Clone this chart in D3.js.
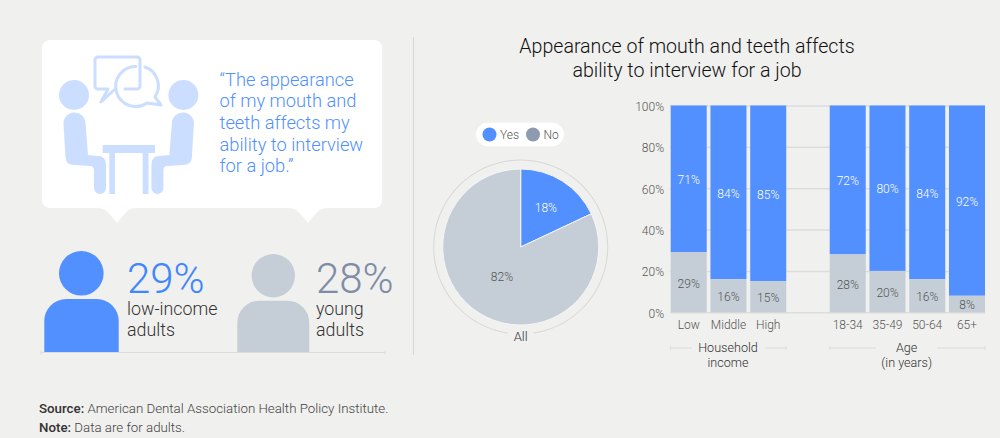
<!DOCTYPE html>
<html>
<head>
<meta charset="utf-8">
<script src="https://cdn.jsdelivr.net/npm/d3@7"></script>
<style>
  html, body { margin: 0; padding: 0; background: #f0f0ee; }
  svg { display: block; font-family: Roboto, "Liberation Sans", sans-serif; font-weight: 300; }
  .axis path { display: none; }
  .axis text { font-size: 12px; fill: #555; font-family: Roboto, "Liberation Sans", sans-serif; }
</style>
</head>
<body>
<svg id="chart" width="1000" height="438"></svg>
<script>
const titleLines = ['Appearance of mouth and teeth affects', 'ability to interview for a job'];
const quoteLines = ['“The appearance', 'of my mouth and', 'teeth affects my', 'ability to interview', 'for a job.”'];

const seriesNames = ['Yes', 'No'];
const allValues = [18, 82];

const barCats = ['Low', 'Middle', 'High', ' ', '18-34', '35-49', '50-64', '65+'];
const yesValues = [71, 84, 85, null, 72, 80, 84, 92];
const noValues = [29, 16, 15, null, 28, 20, 16, 8];
const yTicks = [0, 20, 40, 60, 80, 100];

const calloutStats = [
  { value: 29, label: ['low-income', 'adults'] },
  { value: 28, label: ['young', 'adults'] }
];

const BLUE = '#528fff', GREY = '#c5ced6', NO_LEGEND = '#8e9ab0', ICON = '#cbdeff', RULE = '#dcdcda', TEXT = '#333';

const svg = d3.select('#chart');

// title + divider
svg.append('g').selectAll('text').data(titleLines).enter().append('text')
  .attr('x', 687).attr('y', (d, i) => 53 + i * 24)
  .attr('text-anchor', 'middle').attr('font-size', 19.6).attr('fill', '#111').text(d => d);
svg.append('line').attr('x1', 413.5).attr('x2', 413.5).attr('y1', 37).attr('y2', 355).attr('stroke', '#d8d8d6');

// speech callout
svg.append('path').attr('fill', '#fff').attr('d',
  'M50 40H374a8 8 0 0 1 8 8V200a8 8 0 0 1-8 8H328C318 208 316 214 308 223C300 214 298 208 288 208'
  + 'H137C127 208 125 214 117 223C109 214 107 208 97 208H50a8 8 0 0 1-8-8V48a8 8 0 0 1 8-8Z');

// icon: two people at a table
const icon = svg.append('g').attr('fill', ICON);
const personPath = 'M63.5 124a11 11 0 0 1 22-1L88 155L98 156Q106 156 106 165V188a6 6 0 0 1-12 0V171Q94 166 90 166L74 165Q66 165 65.5 157Z';
icon.append('circle').attr('cx', 74).attr('cy', 95).attr('r', 15);
icon.append('path').attr('d', personPath);
const mirror = icon.append('g').attr('transform', 'translate(257.4,0) scale(-1,1)');
mirror.append('circle').attr('cx', 74).attr('cy', 95).attr('r', 15);
mirror.append('path').attr('d', personPath);
icon.append('path').attr('d', 'M102.7 145H155V153H148.5V194H142.7V153H115V194H109.3V153H102.7Z');
icon.append('path').attr('fill', 'none').attr('stroke', ICON).attr('stroke-width', 3).attr('stroke-linejoin', 'round').attr('stroke-linecap', 'round')
  .attr('d', 'M125 89H137a3 3 0 0 0 3-3V60a3 3 0 0 0-3-3H98a3 3 0 0 0-3 3V86a3 3 0 0 0 3 3H108L101 102L114 90');
icon.append('path').attr('fill', 'none').attr('stroke', ICON).attr('stroke-width', 3).attr('stroke-linejoin', 'round').attr('stroke-linecap', 'round')
  .attr('d', 'M145 67A20 20 0 0 1 155 97L161 105L147 103A20 20 0 1 1 136 66.5');

svg.append('g').selectAll('text').data(quoteLines).enter().append('text')
  .attr('x', 219.5).attr('y', (d, i) => 85.7 + i * 21.6)
  .attr('font-size', 18.3).attr('fill', '#4f8fff').text(d => d);

// people stats
const personSpec = [
  { cx: 81.3, cy: 273.3, r: 22.3, x0: 44.3, x1: 118.7, top: 299, fill: BLUE, tx: 127, num: '#3f86ff' },
  { cx: 273.3, cy: 275.7, r: 21.7, x0: 237.3, x1: 309.3, top: 300.7, fill: GREY, tx: 316, num: '#7f8ca6' }
];
const baseY = 352;
personSpec.forEach((p, i) => {
  const g = svg.append('g');
  g.append('circle').attr('cx', p.cx).attr('cy', p.cy).attr('r', p.r).attr('fill', p.fill);
  g.append('path').attr('fill', p.fill)
    .attr('d', `M${p.x0} ${baseY}V${p.top + 22}a22 22 0 0 1 22-22H${p.x1 - 22}a22 22 0 0 1 22 22V${baseY}Z`);
  g.append('text').attr('x', p.tx).attr('y', 293).attr('font-size', 42).attr('fill', p.num).text(calloutStats[i].value + '%');
  g.selectAll('.lbl').data(calloutStats[i].label).enter().append('text').attr('class', 'lbl')
    .attr('x', p.tx).attr('y', (d, j) => 314.5 + j * 21.8).attr('font-size', 17.8).attr('fill', TEXT).text(d => d);
});
svg.append('path').attr('fill', 'none').attr('stroke', RULE).attr('d', 'M41 350.5V354.5M41 352.5H385M385 350.5V354.5');

// pie
const pieX = 520.7, pieY = 247, pieR = 78, ringR = 87;
const pieG = svg.append('g').attr('transform', `translate(${pieX},${pieY})`);
const pie = d3.pie().sort(null).value(d => d)(allValues);
const arc = d3.arc().innerRadius(0).outerRadius(pieR);
pieG.selectAll('path').data(pie).enter().append('path')
  .attr('d', arc).attr('fill', (d, i) => i === 0 ? BLUE : GREY).attr('stroke', '#f4f5f6').attr('stroke-width', 1);
const labelR = [47, 35];
pieG.selectAll('text.val').data(pie).enter().append('text').attr('class', 'val')
  .attr('transform', (d, i) => {
    const c = d3.arc().innerRadius(labelR[i]).outerRadius(labelR[i]).centroid(d);
    return `translate(${c})`;
  })
  .attr('text-anchor', 'middle').attr('dy', '0.35em').attr('font-size', 12)
  .attr('fill', (d, i) => i === 0 ? '#fff' : '#555').text(d => d.value + '%');
// ring with a gap around "All"
pieG.append('path').attr('fill', '#d8d8d6')
  .attr('d', d3.arc().innerRadius(ringR - 0.5).outerRadius(ringR + 0.5).startAngle(Math.PI + 0.15).endAngle(3 * Math.PI - 0.15)());
pieG.append('text').attr('y', 93.5).attr('text-anchor', 'middle').attr('font-size', 13).attr('fill', TEXT).text('All');

// legend
svg.append('rect').attr('x', 476).attr('y', 122.7).attr('width', 88).attr('height', 23.5).attr('rx', 11.7).attr('fill', '#fff');
const legendX = [489.5, 533];
const legend = svg.append('g').selectAll('g').data(seriesNames).enter().append('g')
  .attr('transform', (d, i) => `translate(${legendX[i]},134.5)`);
legend.append('circle').attr('r', 7).attr('fill', (d, i) => i === 0 ? BLUE : NO_LEGEND);
legend.append('text').attr('x', 10.5).attr('dy', '0.35em').attr('font-size', 12).attr('fill', '#555').text(d => d);

// stacked bars
const x = d3.scaleBand().domain(barCats).range([670.7, 985]).paddingInner(0.094);
const y = d3.scaleLinear().domain([0, 100]).range([312.3, 105.5]);

const yAxis = svg.append('g').attr('class', 'axis').attr('transform', 'translate(670,0)')
  .call(d3.axisLeft(y).tickValues(yTicks).tickFormat(d => d + '%').tickSize(-315).tickPadding(6));
yAxis.selectAll('.tick line').attr('stroke', RULE).attr('stroke-width', 1.5);
yAxis.selectAll('.tick text').attr('dy', '0.42em');

const xAxis = svg.append('g').attr('class', 'axis').attr('transform', 'translate(0,312.3)')
  .call(d3.axisBottom(x).tickSize(0).tickPadding(8));

const bars = svg.append('g').selectAll('g').data(barCats.filter(c => c.trim())).enter().append('g');
const val = (arr, c) => arr[barCats.indexOf(c)];
bars.append('rect').attr('x', c => x(c)).attr('width', x.bandwidth())
  .attr('y', y(100)).attr('height', c => y(val(noValues, c)) - y(100)).attr('fill', BLUE);
bars.append('rect').attr('x', c => x(c)).attr('width', x.bandwidth())
  .attr('y', c => y(val(noValues, c))).attr('height', c => y(0) - y(val(noValues, c))).attr('fill', GREY);
bars.append('text').attr('x', c => x(c) + x.bandwidth() / 2).attr('y', c => (y(100) + y(val(noValues, c))) / 2 + 1)
  .attr('dy', '0.35em').attr('text-anchor', 'middle').attr('font-size', 12).attr('fill', '#fff').text(c => val(yesValues, c) + '%');
bars.append('text').attr('x', c => x(c) + x.bandwidth() / 2).attr('y', c => (y(0) + y(val(noValues, c))) / 2 + 1)
  .attr('dy', '0.35em').attr('text-anchor', 'middle').attr('font-size', 12).attr('fill', '#555').text(c => val(noValues, c) + '%');

// group brackets
const groups = [
  { from: 'Low', to: 'High', cx: 728, lines: ['Household', 'income'], gap: [692, 765] },
  { from: '18-34', to: '65+', cx: 906.7, lines: ['Age', '(in years)'], gap: [876, 937] }
];
groups.forEach(g => {
  const a = x(g.from), b = x(g.to) + x.bandwidth();
  svg.append('path').attr('fill', 'none').attr('stroke', RULE)
    .attr('d', `M${a} 346V350M${a} 348H${g.gap[0]}M${g.gap[1]} 348H${b}M${b} 346V350`);
  svg.append('g').selectAll('text').data(g.lines).enter().append('text')
    .attr('x', g.cx).attr('y', (d, i) => 352 + i * 15.3).attr('text-anchor', 'middle')
    .attr('font-size', 12.6).attr('fill', TEXT).text(d => d);
});

// footer
const foot = svg.append('g').attr('font-size', 13.3).attr('fill', '#444');
const src = foot.append('text').attr('x', 39).attr('y', 413);
src.append('tspan').attr('font-weight', 500).attr('fill', '#333').text('Source: ');
src.append('tspan').text('American Dental Association Health Policy Institute.');
const note = foot.append('text').attr('x', 39).attr('y', 432);
note.append('tspan').attr('font-weight', 500).attr('fill', '#333').text('Note: ');
note.append('tspan').text('Data are for adults.');
</script>
</body>
</html>
